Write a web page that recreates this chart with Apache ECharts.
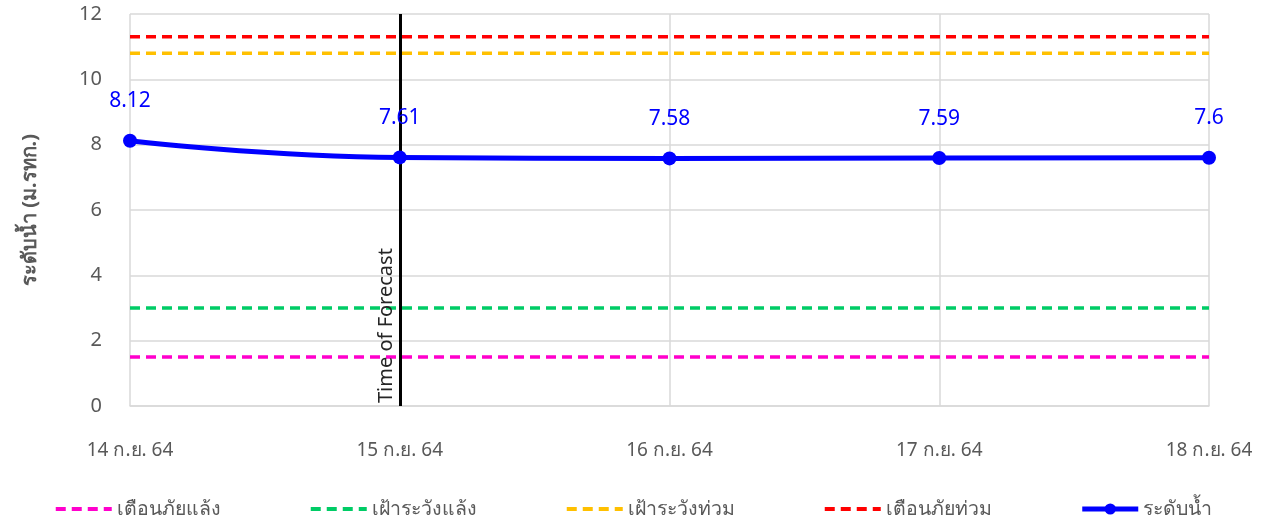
<!DOCTYPE html>
<html><head><meta charset="utf-8">
<script src="https://cdn.jsdelivr.net/npm/echarts@6/dist/echarts.min.js"></script>
<style>html,body{margin:0;padding:0;background:#fff}#c{width:1266px;height:524px}</style>
</head><body><div id="c"></div>
<script>
const categories = ['14 ก.ย. 64','15 ก.ย. 64','16 ก.ย. 64','17 ก.ย. 64','18 ก.ย. 64'];
const waterLevel = [8.12, 7.61, 7.58, 7.59, 7.6];
const droughtWarning = [1.5, 1.5, 1.5, 1.5, 1.5];
const droughtWatch = [3, 3, 3, 3, 3];
const floodWatch = [10.8, 10.8, 10.8, 10.8, 10.8];
const floodWarning = [11.3, 11.3, 11.3, 11.3, 11.3];
const yTicks = {min: 0, max: 12, interval: 2};
const forecastCategory = '15 ก.ย. 64';
const names = ['เตือนภัยแล้ง','เฝ้าระวังแล้ง','เฝ้าระวังท่วม','เตือนภัยท่วม','ระดับน้ำ'];

const grey = '#595959';
const font = 'Noto Sans, sans-serif';
function dashed(name, data, color) {
  return {name, type:'line', data, symbol:'none', silent:true,
    lineStyle:{color, width:3.5, type:[10,6]}, itemStyle:{color}, z:2};
}
const chart = echarts.init(document.getElementById('c'));
chart.setOption({
  animation:false,
  textStyle:{fontFamily:font},
  grid:{left:130, right:57, top:14, bottom:118, containLabel:false},
  legend:{bottom:0, left:'center', itemWidth:56, itemHeight:14, itemGap:88,
    textStyle:{color:grey, fontSize:19.5, fontFamily:font},
    data:[
      {name:names[0], itemStyle:{opacity:0}, lineStyle:{width:4}},
      {name:names[1], itemStyle:{opacity:0}, lineStyle:{width:4}},
      {name:names[2], itemStyle:{opacity:0}, lineStyle:{width:4}},
      {name:names[3], itemStyle:{opacity:0}, lineStyle:{width:4}},
      {name:names[4], lineStyle:{width:5}}
    ]},
  xAxis:{type:'category', data:categories, boundaryGap:false,
    axisLine:{lineStyle:{color:'#d9d9d9', width:1.5}}, axisTick:{show:false},
    axisLabel:{color:grey, fontSize:19, margin:35},
    splitLine:{show:true, lineStyle:{color:'#d9d9d9', width:1.5}}},
  yAxis:{type:'value', min:yTicks.min, max:yTicks.max, interval:yTicks.interval,
    name:'ระดับน้ำ (ม.รทก.)', nameLocation:'middle', nameGap:90, nameRotate:90,
    nameTextStyle:{color:grey, fontSize:20, fontWeight:'bold'},
    axisLine:{show:false}, axisTick:{show:false},
    axisLabel:{color:grey, fontSize:20, margin:28},
    splitLine:{lineStyle:{color:'#d9d9d9', width:1.5}}},
  series:[
    dashed(names[0], droughtWarning, '#ff00cc'),
    dashed(names[1], droughtWatch, '#00cc66'),
    dashed(names[2], floodWatch, '#ffc000'),
    dashed(names[3], floodWarning, '#ff0000'),
    {name:names[4], type:'line', data:waterLevel, smooth:true, symbol:'circle', symbolSize:14,
     lineStyle:{color:'#0000ff', width:5}, itemStyle:{color:'#0000ff'}, z:5,
     label:{show:true, position:'top', distance:22, color:'#0000ff', fontSize:21},
     markLine:{silent:true, symbol:'none', animation:false,
       lineStyle:{color:'#000', width:3, type:'solid'},
       label:{show:true, formatter:'Time of Forecast', position:'insideStartTop', color:'#262626', fontSize:20, distance:3},
       data:[{xAxis:forecastCategory}]}}
  ]
});
</script></body></html>
